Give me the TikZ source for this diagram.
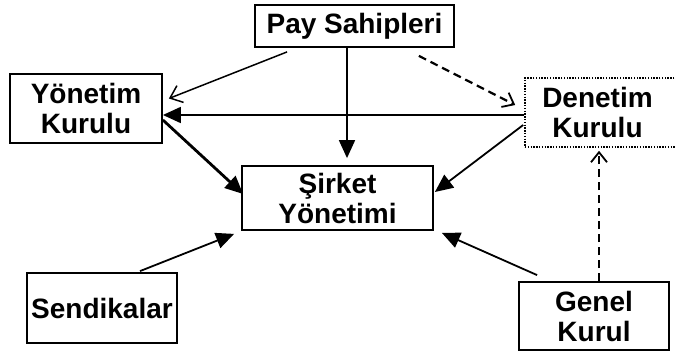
\documentclass[tikz,border=0pt]{standalone}
\usepackage{fontspec}
\setmainfont{Liberation Sans}
\usetikzlibrary{arrows.meta}
\begin{document}
\begin{tikzpicture}[x=1pt,y=-1pt,
  box/.style={draw, line width=1.8pt, align=center, inner sep=0pt,
    font=\fontsize{28}{30}\selectfont\bfseries},
  dotbox/.style={box, line width=1.6pt, dash pattern=on 1.4pt off 1.4pt},
  solidarr/.style={line width=1.8pt, -{Triangle[length=18pt,width=16pt]}},
  thickarr/.style={line width=2.8pt, -{Triangle[length=18pt,width=16pt]}},
  openarr/.style={line width=1.5pt, -{Straight Barb[length=11pt,width=18pt,line width=1.5pt]}},
  dasharr/.style={line width=2.2pt, dash pattern=on 8pt off 5pt, -{Straight Barb[length=10pt,width=16pt,line width=1.8pt]}}
]
\useasboundingbox (0,0) rectangle (676,353);
\node[box, minimum width=199pt, minimum height=42pt] (pay) at (354.5,26) {Pay Sahipleri};
\node[box, minimum width=152pt, minimum height=69pt] (yon) at (86,108.5) {Yönetim\\Kurulu};
\node[dotbox, minimum width=155pt, minimum height=69pt] (den) at (602.5,112.5) {\hspace*{-10pt}Denetim\\\hspace*{-10pt}Kurulu};
\node[box, minimum width=191pt, minimum height=64pt] (sir) at (337.5,198) {Şirket\\Yönetimi};
\node[box, minimum width=150pt, minimum height=70pt] (sen) at (102,308) {Sendikalar};
\node[box, minimum width=150pt, minimum height=68pt] (gen) at (594,316) {Genel\\Kurul};

\draw[openarr] ([shift={(33,4)}]pay.south west) -- ([shift={(6,-10)}]yon.east);
\draw[solidarr, shorten >=7pt] ([xshift=-7.5pt]pay.south) -- ([xshift=9.5pt]sir.north);
\draw[dasharr] ([shift={(-36,8)}]pay.south east) -- ([shift={(-9,-7.5)}]den.west);
\draw[solidarr] ([shift={(0,2.5)}]den.west) -- ([shift={(0,2.5)}]den.west -| yon.east);
\draw[thickarr] ([shift={(0,11.5)}]yon.east) -- ([shift={(2,-4)}]sir.west);
\draw[solidarr] ([shift={(-1,12.5)}]den.west) -- ([shift={(1,-6)}]sir.east);
\draw[solidarr] ([shift={(38,-1)}]sen.north) -- ([shift={(-7,3)}]sir.south west);
\draw[solidarr] ([shift={(19,-6)}]gen.north west) -- ([shift={(8,2)}]sir.south east);
\draw[dasharr] ([xshift=5pt]gen.north) -- ([shift={(-3.5,3)}]den.south);
\end{tikzpicture}
\end{document}
